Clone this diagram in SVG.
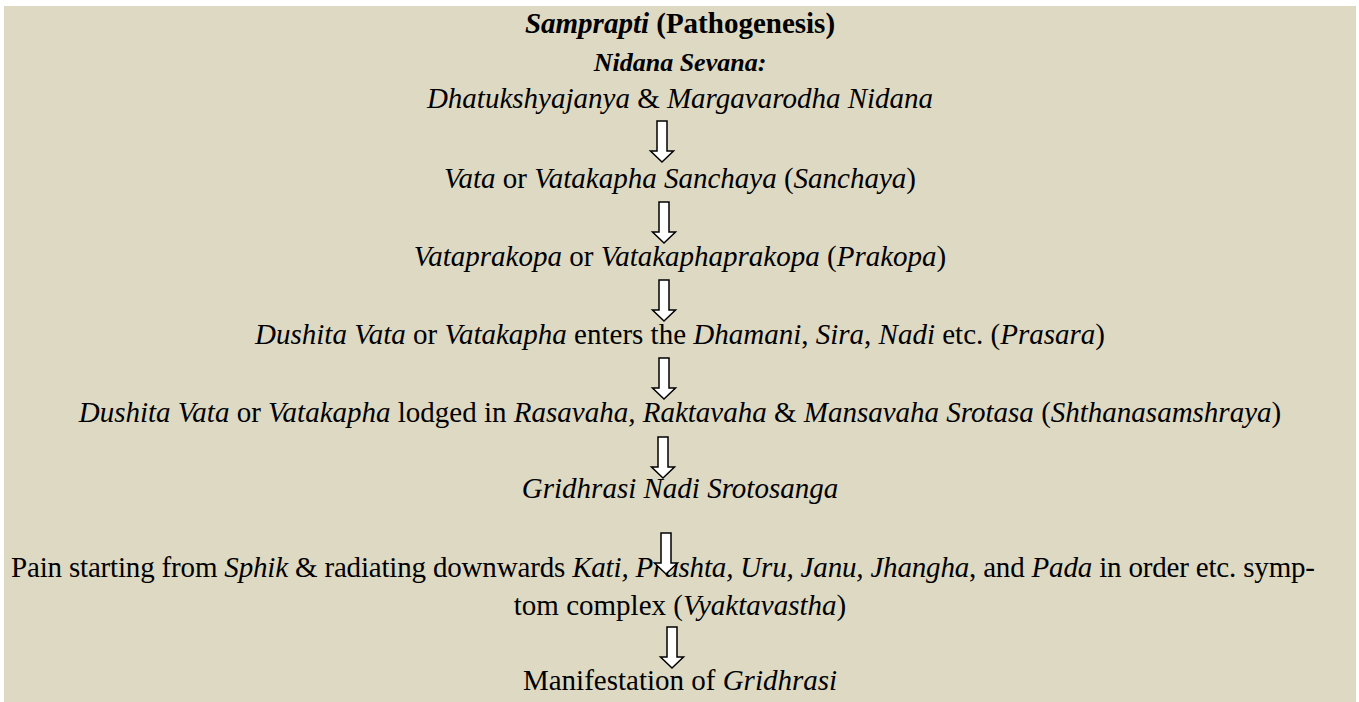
<svg xmlns="http://www.w3.org/2000/svg" width="1359" height="702" viewBox="0 0 1359 702">
<style>
text, tspan { font-family: 'Liberation Serif', serif; }
text { font-size: 29px; fill: #000; text-anchor: middle; }
.i { font-style: italic; }
.b { font-weight: bold; }
.arrow { fill: #fff; stroke: #000; stroke-width: 1.5; }
</style>
<defs>
<path id="arr" class="arrow" d="M -5 0 H 5 V 30 H 11.5 L 0 41 L -11.5 30 H -5 Z"/>
</defs>
<rect x="0" y="0" width="1359" height="702" fill="#fff"/>
<rect x="4" y="6" width="1352" height="696" fill="#DDD9C3"/>
<g id="title"><text x="680" y="33" class="b"><tspan class="i">Samprapti</tspan> (Pathogenesis)</text></g>
<g id="n0"><text x="680" y="71" class="b i" style="font-size:26px">Nidana Sevana:</text></g>
<g id="n1"><text x="680" y="108"><tspan class="i">Dhatukshyajanya</tspan> &amp; <tspan class="i">Margavarodha Nidana</tspan></text></g>
<g id="n2"><text x="680" y="188"><tspan class="i">Vata</tspan> or <tspan class="i">Vatakapha Sanchaya</tspan> (<tspan class="i">Sanchaya</tspan>)</text></g>
<g id="n3"><text x="680" y="266"><tspan class="i">Vataprakopa</tspan> or <tspan class="i">Vatakaphaprakopa</tspan> (<tspan class="i">Prakopa</tspan>)</text></g>
<g id="n4"><text x="680" y="344"><tspan class="i">Dushita Vata</tspan> or <tspan class="i">Vatakapha</tspan> enters the <tspan class="i">Dhamani</tspan>, <tspan class="i">Sira</tspan>, <tspan class="i">Nadi</tspan> etc. (<tspan class="i">Prasara</tspan>)</text></g>
<g id="n5"><text x="680" y="422"><tspan class="i">Dushita Vata</tspan> or <tspan class="i">Vatakapha</tspan> lodged in <tspan class="i">Rasavaha, Raktavaha</tspan> &amp; <tspan class="i">Mansavaha Srotasa</tspan> (<tspan class="i">Shthanasamshraya</tspan>)</text></g>
<g id="n6"><text x="680" y="498" class="i">Gridhrasi Nadi Srotosanga</text></g>
<g id="n7"><text x="11" y="577" style="text-anchor:start" textLength="1304" lengthAdjust="spacing">Pain starting from <tspan class="i">Sphik</tspan> &amp; radiating downwards <tspan class="i">Kati, Prushta, Uru, Janu, Jhangha</tspan>, and <tspan class="i">Pada</tspan> in order etc. symp-</text><text x="680" y="615">tom complex (<tspan class="i">Vyaktavastha</tspan>)</text></g>
<g id="n8"><text x="680" y="690">Manifestation of <tspan class="i">Gridhrasi</tspan></text></g>
<g id="connectors">
<use href="#arr" x="662" y="121"/>
<use href="#arr" x="664" y="202"/>
<use href="#arr" x="664" y="280"/>
<use href="#arr" x="664" y="358"/>
<use href="#arr" x="663" y="437"/>
<use href="#arr" x="666" y="533"/>
<use href="#arr" x="672" y="627"/>
</g>
</svg>
